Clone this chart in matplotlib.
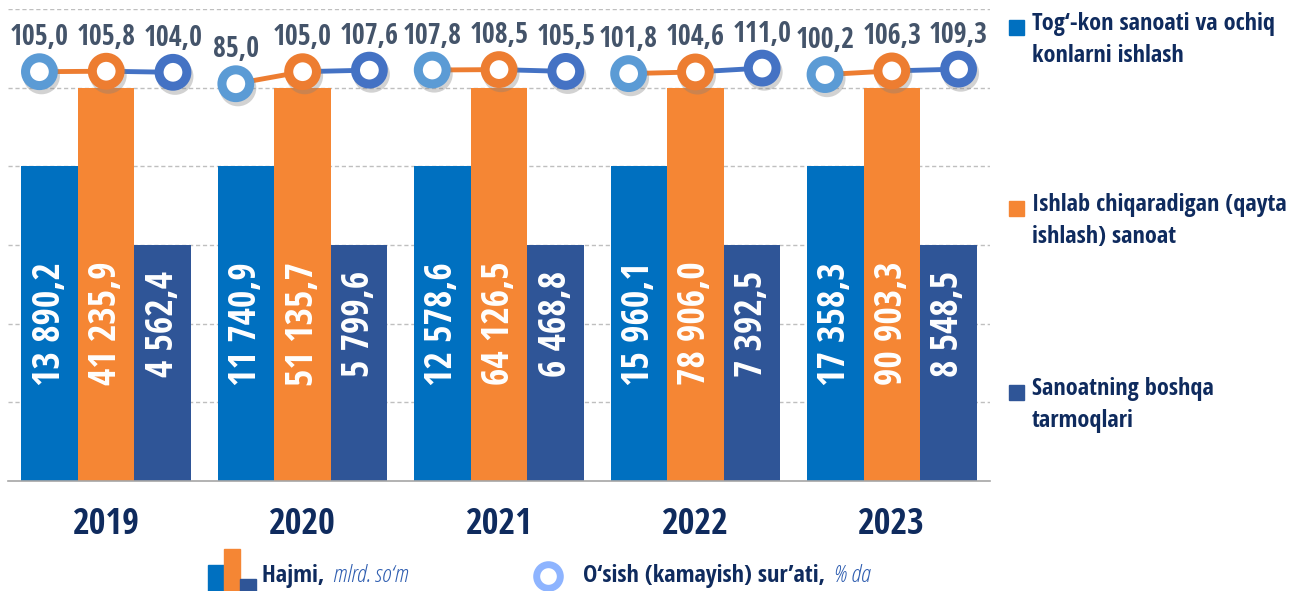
import matplotlib
matplotlib.use("Agg")
from matplotlib import pyplot as plt
from matplotlib import patheffects as pe
from matplotlib.patches import Rectangle
import numpy as np

years = ["2019", "2020", "2021", "2022", "2023"]
series_names = ["Tog\u2018-kon sanoati va ochiq\nkonlarni ishlash",
                "Ishlab chiqaradigan (qayta\nishlash) sanoat",
                "Sanoatning boshqa\ntarmoqlari"]
# volume, mlrd. so'm
mining = [13890.2, 11740.9, 12578.6, 15960.1, 17358.3]
manufacturing = [41235.9, 51135.7, 64126.5, 78906.0, 90903.3]
other = [4562.4, 5799.6, 6468.8, 7392.5, 8548.5]
# bars are drawn at a fixed level per series (stylised chart)
bar_levels = [4, 5, 3]
# growth rate, %
growth_mining = [105.0, 85.0, 107.8, 101.8, 100.2]
growth_manuf = [105.8, 105.0, 108.5, 104.6, 106.3]
growth_other = [104.0, 107.6, 105.5, 111.0, 109.3]

bar_colors = ["#0070C0", "#F58634", "#2F5597"]
dot_colors = ["#5B9BD5", "#ED7D31", "#4472C4"]
navy = "#0F2B5E"
slate = "#44546A"
FONT = ["Open Sans Condensed", "DejaVu Sans"]
ITALIC = ["Open Sans", "DejaVu Sans"]

plt.rcParams['font.family'] = FONT
plt.rcParams['font.weight'] = 'bold'

W, H = 1297, 591
fig = plt.figure(figsize=(W / 100, H / 100), dpi=100)


def fx(px):
    return px / W


def fy(py):
    return 1 - py / H


ax = fig.add_axes([fx(8), fy(481), fx(990) - fx(8), fy(9) - fy(481)])
x = np.arange(len(years))
bw = 0.288
values = [mining, manufacturing, other]
for k in range(3):
    xs = x + (k - 1) * bw
    ax.bar(xs, [bar_levels[k]] * len(years), width=bw, color=bar_colors[k],
           zorder=2, label=series_names[k])
    for xi, v in zip(xs, values[k]):
        txt = f"{v:,.1f}".replace(",", " ").replace(".", ",")
        ax.text(xi, 2.0, txt, rotation=90, ha='center', va='center',
                color='white', fontsize=27, fontweight='bold', zorder=3)

ax.set_xlim(-0.5, len(years) - 0.5)
ax.set_ylim(0, 6)
ax.set_yticks(range(1, 7))
ax.yaxis.grid(True, color='#BFBFBF', linestyle=(0, (3, 2)), linewidth=1)
ax.set_axisbelow(True)
for s in ['top', 'right', 'left']:
    ax.spines[s].set_visible(False)
ax.spines['bottom'].set_color('#A6A6A6')
ax.spines['bottom'].set_linewidth(1.2)
ax.tick_params(axis='y', left=False, labelleft=False)
ax.set_xticks(x)
ax.set_xticklabels(years, fontsize=26, fontweight='bold', color=navy)
ax.tick_params(axis='x', length=0, pad=19)

# growth lines in a thin band on top
lax = fig.add_axes([fx(8), fy(112), fx(990) - fx(8), fy(32) - fy(112)])
lax.set_xlim(-0.5, len(years) - 0.5)
lax.set_ylim(38, 171)
lax.axis('off')
lax.patch.set_alpha(0)
shadow = [pe.SimpleLineShadow(offset=(1.5, -3), shadow_color='gray', alpha=0.35), pe.Normal()]
off = 0.34
growth = [growth_mining, growth_manuf, growth_other]
for i in range(len(years)):
    gx = [x[i] - off, x[i], x[i] + off]
    gy = [growth[0][i], growth[1][i], growth[2][i]]
    lax.plot(gx[:2], gy[:2], color=dot_colors[1], lw=3.5, zorder=2)
    lax.plot(gx[1:], gy[1:], color=dot_colors[2], lw=3.5, zorder=2)
    for k in range(3):
        lax.plot(gx[k], gy[k], marker='o', markersize=20, markerfacecolor='white',
                 markeredgecolor=dot_colors[k], markeredgewidth=6.5, zorder=3,
                 path_effects=shadow)
        lax.annotate(f"{gy[k]:.1f}".replace(".", ","), (gx[k], gy[k]),
                     xytext=(0, 14), textcoords='offset points', ha='center',
                     va='bottom', fontsize=20, fontweight='bold', color=slate,
                     annotation_clip=False)

# right legend
leg_y = [27, 208, 392]
for k in range(3):
    fig.patches.append(Rectangle((fx(1009), fy(leg_y[k] + 8)), fx(15), 15 / H,
                                 transform=fig.transFigure, color=bar_colors[k]))
    fig.text(fx(1032), fy(leg_y[k] - 15), series_names[k], ha='left', va='top',
             fontsize=17.5, fontweight='bold', color=navy, linespacing=1.42)

# bottom legend
icon_x = [208, 224, 240]
icon_top = [565, 549, 579]
for k in range(3):
    fig.patches.append(Rectangle((fx(icon_x[k]), fy(591)), fx(16), (591 - icon_top[k]) / H,
                                 transform=fig.transFigure, color=bar_colors[k]))
fig.canvas.draw()
r = fig.canvas.get_renderer()
t1 = fig.text(fx(262), fy(576), "Hajmi, ", ha='left', va='center', fontsize=17.5,
              fontweight='bold', color=navy)
e1 = t1.get_window_extent(r)
fig.text(e1.x1 / W + fx(3), fy(576), "mlrd. so\u2018m", ha='left', va='center',
         fontsize=17.5, family=ITALIC, fontweight=300, fontstretch='condensed',
         style='italic', color='#2E5DB0')

fig.add_artist(plt.Line2D([fx(548)], [fy(576)], marker='o', markersize=17,
                          markerfacecolor='white', markeredgecolor='#8EB4FF',
                          markeredgewidth=5, transform=fig.transFigure))
t2 = fig.text(fx(583), fy(576), "O\u2018sish (kamayish) sur\u2019ati, ", ha='left',
              va='center', fontsize=17.5, fontweight='bold', color=navy)
e2 = t2.get_window_extent(r)
fig.text(e2.x1 / W + fx(3), fy(576), "% da", ha='left', va='center', fontsize=17.5,
         family=ITALIC, fontweight=300, fontstretch='condensed', style='italic',
         color='#2E5DB0')

fig.savefig("out.png", dpi=100)
